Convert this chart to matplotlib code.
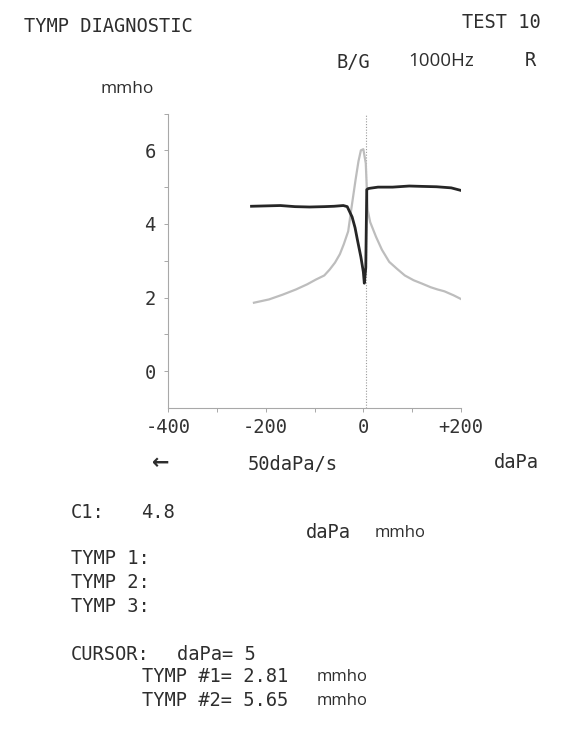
import matplotlib
matplotlib.use("Agg")
import matplotlib.pyplot as plt
import numpy as np

# Data (pressure in daPa, admittance in mmho)
t1_dapa = [-229, -200, -170, -140, -110, -80, -60, -41, -33, -23, -17, -12, -5, 0, 2, 5, 7, 10, 14, 30, 60, 94, 120, 150, 180, 200]
t1_mmho = [4.48, 4.49, 4.50, 4.47, 4.46, 4.47, 4.48, 4.50, 4.47, 4.19, 3.90, 3.56, 3.10, 2.70, 2.39, 2.81, 4.93, 4.96, 4.97, 5.00, 5.00, 5.03, 5.02, 5.01, 4.98, 4.91]

t2_dapa = [-224, -193, -165, -138, -115, -97, -80, -69, -58, -48, -40, -31, -25, -16, -10, -5, 0, 3, 5, 7, 9, 14, 20, 26, 38, 53, 69, 85, 103, 120, 138, 152, 166, 185, 200]
t2_mmho = [1.86, 1.95, 2.08, 2.22, 2.36, 2.49, 2.60, 2.76, 2.95, 3.18, 3.45, 3.80, 4.37, 5.19, 5.70, 6.00, 6.03, 5.80, 5.65, 5.00, 4.37, 4.05, 3.85, 3.65, 3.30, 2.97, 2.78, 2.60, 2.47, 2.38, 2.28, 2.22, 2.17, 2.06, 1.96]

cursor_dapa = 5
x_ticks = [-400, -300, -200, -100, 0, 100, 200]
x_labels = ["-400", "", "-200", "", "0", "", "+200"]
y_ticks = [0, 1, 2, 3, 4, 5, 6, 7]
y_labels = ["0", "", "2", "", "4", "", "6", ""]

W, H = 576, 735
fig = plt.figure(figsize=(W / 100, H / 100), dpi=100)
fig.patch.set_facecolor("white")

ax = fig.add_axes([168 / W, 1 - 408 / H, (461 - 168) / W, (408 - 113.5) / H])
ax.set_xlim(-400, 200)
ax.set_ylim(-1, 7)
ax.set_facecolor("white")
for s in ["top", "right"]:
    ax.spines[s].set_visible(False)
for s in ["left", "bottom"]:
    ax.spines[s].set_color("#a8a8a8")
    ax.spines[s].set_linewidth(0.8)

ax.axvline(cursor_dapa, color="#9a9a9a", lw=0.8, ls=(0, (1, 1.5)), zorder=1)
ax.plot(t2_dapa, t2_mmho, color="#bdbdbd", lw=1.6, zorder=2)
ax.plot(t1_dapa, t1_mmho, color="#262626", lw=2.0, zorder=3)

MONO = "DejaVu Sans Mono"
ax.set_xticks(x_ticks)
ax.set_xticklabels(x_labels, fontfamily=MONO, fontsize=13.5, color="#333333")
ax.set_yticks(y_ticks)
ax.set_yticklabels(y_labels, fontfamily=MONO, fontsize=13.5, color="#333333")
ax.tick_params(axis="both", direction="out", length=3, width=0.7, color="#a8a8a8", pad=6)
ax.tick_params(axis="x", pad=4)

txt = dict(color="#2e2e2e", fontfamily=MONO, fontsize=13.5, va="center")

def T(x, y, s, ha="left", **kw):
    d = dict(txt)
    d.update(kw)
    fig.text(x / W, 1 - y / H, s, ha=ha, **d)

T(24, 27, "TYMP DIAGNOSTIC")
T(541, 23, "TEST 10", ha="right")
T(336, 62, "B/G")
T(408, 61, "1000Hz", fontfamily="Open Sans", fontsize=13.5)
T(525, 61, "R")
T(100, 89, "mmho", fontfamily="Open Sans", fontsize=12.5)

T(152, 463, "\u2190", fontfamily="DejaVu Sans", fontsize=15, fontweight="bold")
T(248, 465, "50daPa/s")
T(494, 463, "daPa")

T(71, 513, "C1:")
T(141, 513, "4.8")
T(306, 533, "daPa")
T(375, 533, "mmho", fontfamily="Open Sans", fontsize=12)
T(71, 559, "TYMP 1:")
T(71, 582, "TYMP 2:")
T(71, 606, "TYMP 3:")
T(71, 655, "CURSOR:")
T(177, 655, "daPa= 5")
T(142, 677, "TYMP #1= 2.81")
T(317, 677, "mmho", fontfamily="Open Sans", fontsize=12)
T(142, 701, "TYMP #2= 5.65")
T(317, 701, "mmho", fontfamily="Open Sans", fontsize=12)

fig.savefig("out.png", dpi=100, facecolor="white")
